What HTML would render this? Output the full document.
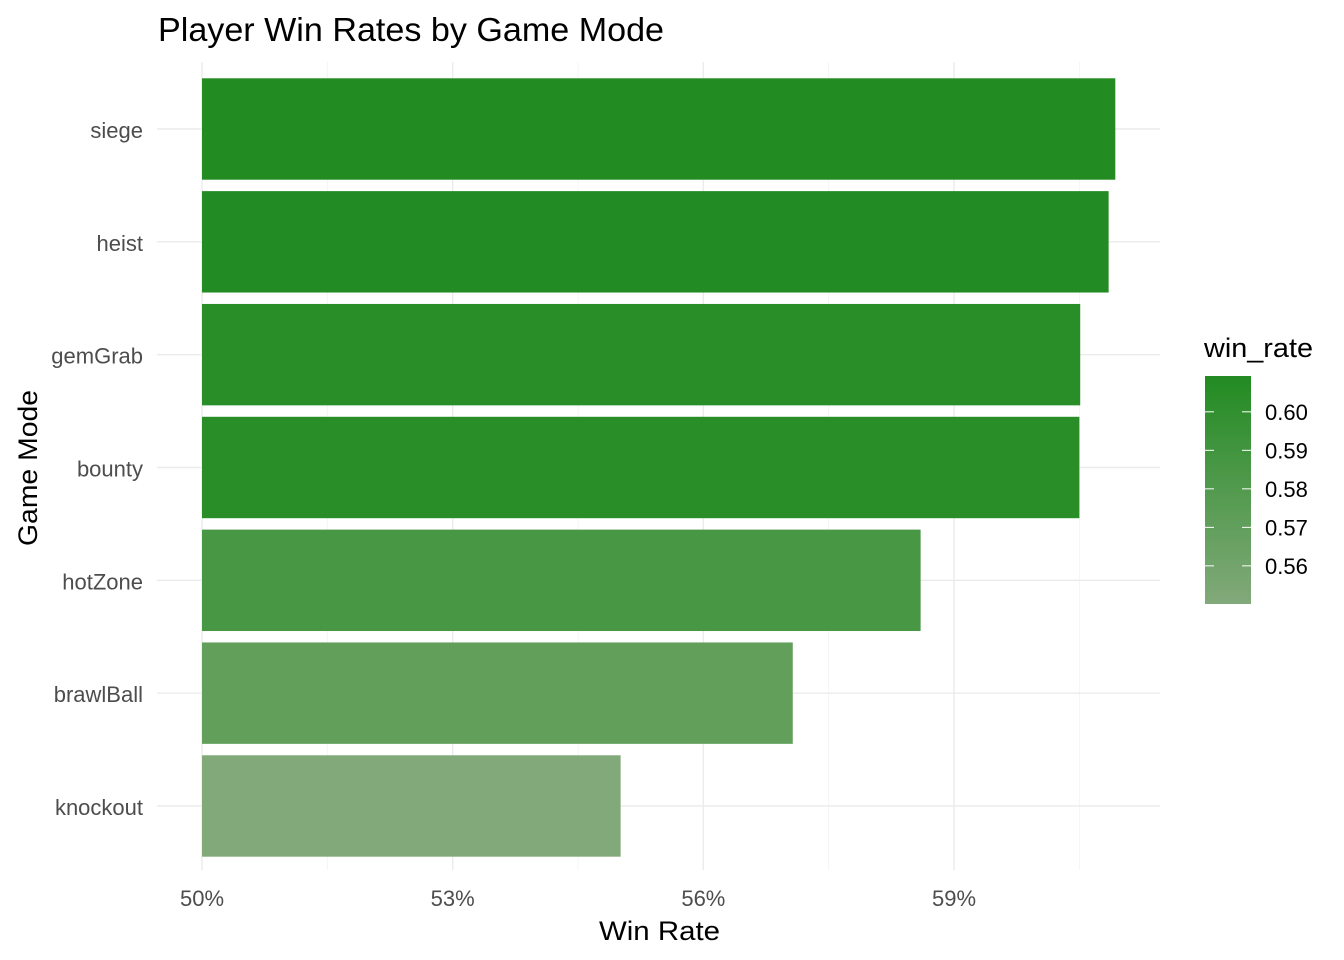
<!DOCTYPE html>
<html><head><meta charset="utf-8"><style>
body{margin:0;background:#fff;font-family:"Liberation Sans",sans-serif;}
svg{display:block}
</style></head><body>
<svg width="1344" height="960">
<defs><linearGradient id="lg" x1="0" y1="1" x2="0" y2="0">
<stop offset="0" stop-color="#82A97A"/><stop offset="1" stop-color="#228B22"/></linearGradient></defs>
<g id="grid"></g>
<g id="bars"></g>
<g id="axes"></g>
<text x="158" y="41" font-size="33" textLength="506" lengthAdjust="spacingAndGlyphs" fill="#000">Player Win Rates by Game Mode</text>
<text x="599" y="940" font-size="27" textLength="121" lengthAdjust="spacingAndGlyphs" fill="#000">Win Rate</text>
<text transform="translate(37,546) rotate(-90)" font-size="27" textLength="156" lengthAdjust="spacingAndGlyphs" fill="#000">Game Mode</text>
<g>
<text x="1204" y="357" font-size="27" textLength="109" lengthAdjust="spacingAndGlyphs" fill="#000">win_rate</text>
<rect x="1205" y="376" width="46" height="228" fill="url(#lg)"/>
<g id="leg"></g>
</g>
</svg>
<script>
const categories=["siege","heist","gemGrab","bounty","hotZone","brawlBall","knockout"];
const winRates=[0.6093,0.6085,0.6051,0.6050,0.5860,0.5707,0.5501];
const xTicks=[0.50,0.53,0.56,0.59];
const xTickLabels=["50%","53%","56%","59%"];
const legendTicks=[0.60,0.59,0.58,0.57,0.56];
const NS="http://www.w3.org/2000/svg";
const x=v=>202+(v-0.5)*8356;
const y=i=>129+i*112.83;
const minV=Math.min(...winRates),maxV=Math.max(...winRates);
const lo=[0x82,0xA9,0x7A],hi=[0x22,0x8B,0x22];
const col=v=>{const t=(v-minV)/(maxV-minV);return "rgb("+lo.map((c,k)=>Math.round(c+(hi[k]-c)*t)).join(",")+")";};
const ly=v=>604-(v-minV)/(maxV-minV)*228;
function mk(tag,attrs,parent){const e=document.createElementNS(NS,tag);for(const k in attrs)e.setAttribute(k,attrs[k]);document.getElementById(parent).appendChild(e);return e;}
const grid="grid";
xTicks.forEach((v,i)=>{
  let l=mk("line",{x1:x(v),x2:x(v),y1:62,y2:870,stroke:"#ebebeb","stroke-width":1.4},grid);
  
  
  let m=mk("line",{x1:x(v+0.015),x2:x(v+0.015),y1:62,y2:870,stroke:"#f3f3f3","stroke-width":0.8},grid);
  
  
  let t=mk("text",{x:x(v),y:906,"font-size":22,"text-anchor":"middle",fill:"#4d4d4d"},"axes");
  t.textContent=xTickLabels[i];
  
  
});
categories.forEach((c,i)=>{
  let l=mk("line",{x1:157,x2:1160,y1:y(i),y2:y(i),stroke:"#ebebeb","stroke-width":1.4},grid);
  
  
  let r=mk("rect",{x:x(0.5),y:y(i)-50.7,width:x(winRates[i])-x(0.5),height:101.4,fill:col(winRates[i])},"bars");
  
  
  let t=mk("text",{x:143,y:y(i)+9,"font-size":22,"text-anchor":"end",fill:"#4d4d4d"},"axes");
  t.textContent=c;
  
  
});
legendTicks.forEach(v=>{
  mk("line",{x1:1205,x2:1214,y1:ly(v),y2:ly(v),stroke:"#fff","stroke-width":1},"leg");
  mk("line",{x1:1242,x2:1251,y1:ly(v),y2:ly(v),stroke:"#fff","stroke-width":1},"leg");
  let t=mk("text",{x:1265,y:ly(v)+8,"font-size":22,fill:"#000"},"leg");
  t.textContent=v.toFixed(2);
  
  
});
</script>
</body></html>
